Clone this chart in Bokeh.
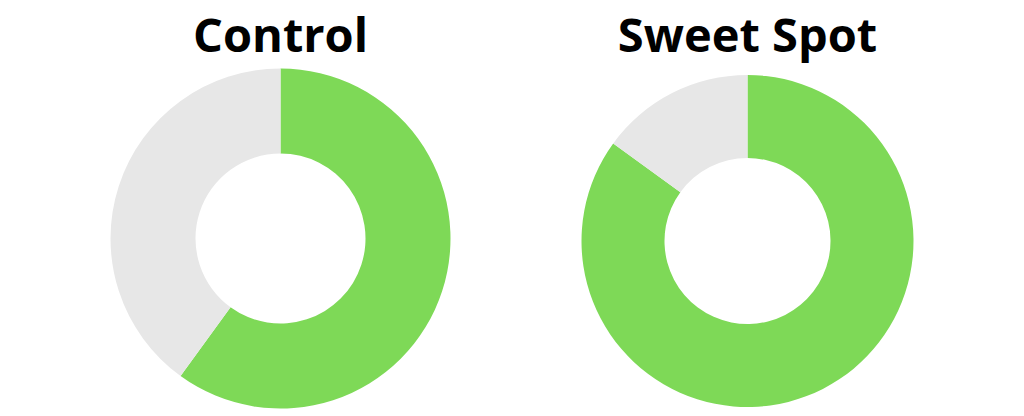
import math
from bokeh.plotting import figure
from bokeh.models import ColumnDataSource, Range1d
from bokeh.core.properties import value
from bokeh.embed import file_html
from bokeh.resources import INLINE

# data
labels = ["Control", "Sweet Spot"]
green_pct = [60, 85]
grey_pct = [40, 15]

# layout (screen pixels, y measured from bottom of picture)
centers_x = [280, 747]
centers_y = [416 - 238, 416 - 240.5]
outer_r = [170, 166]
inner_r = [85, 83]
title_y = 416 - 1

GREEN = "#7ED957"
GREY = "#E7E7E7"

p = figure(width=1024, height=416, output_backend="svg", toolbar_location=None,
           x_range=Range1d(0, 1024), y_range=Range1d(0, 416), min_border=0)
p.axis.visible = False
p.grid.visible = False
p.outline_line_color = None

top = math.pi / 2
g_end = [top - 2 * math.pi * g / 100 for g in green_pct]

src = ColumnDataSource(dict(
    x=centers_x, y=centers_y, ri=inner_r, ro=outer_r,
    start=[top] * len(labels), g_end=g_end,
    tx=centers_x, ty=[title_y] * len(labels), label=labels,
))

p.annular_wedge(x="x", y="y", inner_radius="ri", outer_radius="ro",
                start_angle="start", end_angle="g_end", direction="clock",
                fill_color=GREEN, line_color=None, source=src)
p.annular_wedge(x="x", y="y", inner_radius="ri", outer_radius="ro",
                start_angle="g_end", end_angle="start", direction="clock",
                fill_color=GREY, line_color=None, source=src)

p.text(x="tx", y="ty", text="label", source=src, text_align="center",
       text_baseline="top", text_font=value("Open Sans"),
       text_font_style="bold", text_font_size="47px", text_color="#000000")

open("out.html", "w").write(file_html(p, INLINE))
